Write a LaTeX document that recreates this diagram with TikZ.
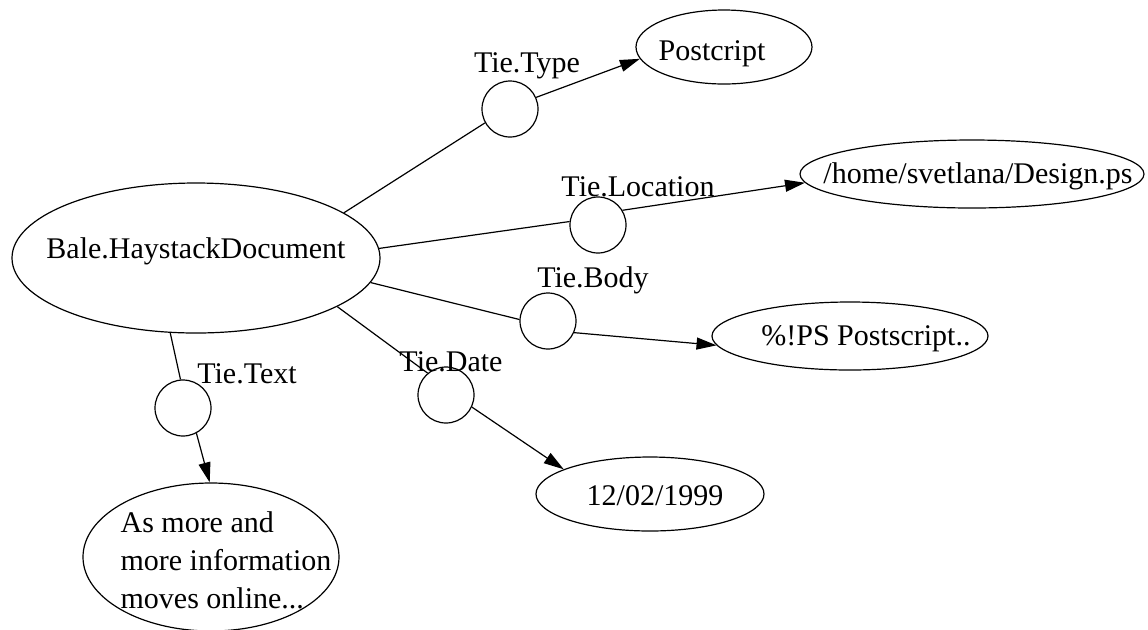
\documentclass[tikz,border=0pt]{standalone}
\usepackage{fontspec}
\setmainfont{Liberation Serif}
\usetikzlibrary{shapes.geometric,arrows.meta}
% text of zero size, moved by #1 (right) and #2 (up) from the node centre
\newcommand{\zw}[3]{\makebox[0pt]{\kern#1\raisebox{#2}[0pt][0pt]{#3}\kern-#1}}
\tikzset{
    docnode/.style={
        draw, ellipse, inner sep=0pt, line width=0.6pt
    },
    tienode/.style={
        draw, circle, minimum size=28pt, inner sep=0pt, line width=0.6pt
    },
    tielabel/.style={anchor=base, inner sep=0pt},
    tieline/.style={line width=0.6pt},
    tiearrow/.style={
        line width=0.6pt,
        -{Triangle[length=10pt, width=6pt]}
    }
}

\begin{document}
\begin{tikzpicture}[x=0.5pt, y=-0.5pt, font=\fontsize{15}{19}\selectfont]
    \useasboundingbox (0,0) rectangle (1148,629);
    % the document and its values
    \node[docnode, minimum width=184pt, minimum height=75pt] (bale) at (196,258)
        {\zw{0pt}{0pt}{Bale.HaystackDocument}};
    \node[docnode, minimum width=88pt, minimum height=37pt] (post) at (724,47)
        {\zw{-6pt}{-6.5pt}{Postcript}};
    \node[docnode, minimum width=172pt, minimum height=34pt] (design) at (972,174)
        {\zw{3pt}{-4.5pt}{/home/svetlana/Design.ps}};
    \node[docnode, minimum width=138pt, minimum height=34pt] (pscode) at (850,336)
        {\zw{8pt}{-4.5pt}{\%!PS Postscript..}};
    \node[docnode, minimum width=114pt, minimum height=37pt] (datev) at (650,494)
        {\zw{2.5pt}{-5.5pt}{12/02/1999}};
    \node[docnode, minimum width=128pt, minimum height=74pt] (textv) at (211,557)
        {\zw{7.5pt}{-25.5pt}{\begin{tabular}[b]{@{}l@{}}As more and\\more information\\moves online...\end{tabular}}};

    % ties
    \node[tienode] (ttype) at (510,109) {};
    \node[tienode] (tloc) at (598,225) {};
    \node[tienode] (tbody) at (548,321) {};
    \node[tienode] (tdate) at (446,395) {};
    \node[tienode] (ttext) at (183,408) {};

    \node[tielabel] (ltype) at ([shift={(17,-37)}]ttype.center) {Tie.Type};
    \node[tielabel] (lloc) at ([shift={(40,-29)}]tloc.center) {Tie.Location};
    \node[tielabel] (lbody) at ([shift={(45,-34)}]tbody.center) {Tie.Body};
    \node[tielabel] (ldate) at ([shift={(5,-24)}]tdate.center) {Tie.Date};
    \node[tielabel] (ltext) at ([shift={(64,-25)}]ttext.center) {Tie.Text};

    % edges
    \draw[tieline] (bale.17.9) -- (ttype.209);
    \draw[tiearrow] (ttype.24) -- (post.188.6);
    \draw[tieline] (bale.3.6) -- (tloc.173.4);
    \draw[tiearrow] (tloc.31.6) -- (design.183.2);
    \draw[tieline] (bale.-8) -- (tbody.177.8);
    \draw[tiearrow] (tbody.-24) -- (pscode.184.2);
    \draw[tieline] (bale.-19.8) -- (tdate.130.6);
    \draw[tiearrow] (tdate.-25.7) -- (datev.164.7);
    \draw[tieline] (bale.251.6) -- (ttext.95);
    \draw[tiearrow] (ttext.-62.5) -- (textv.91.5);
\end{tikzpicture}
\end{document}
